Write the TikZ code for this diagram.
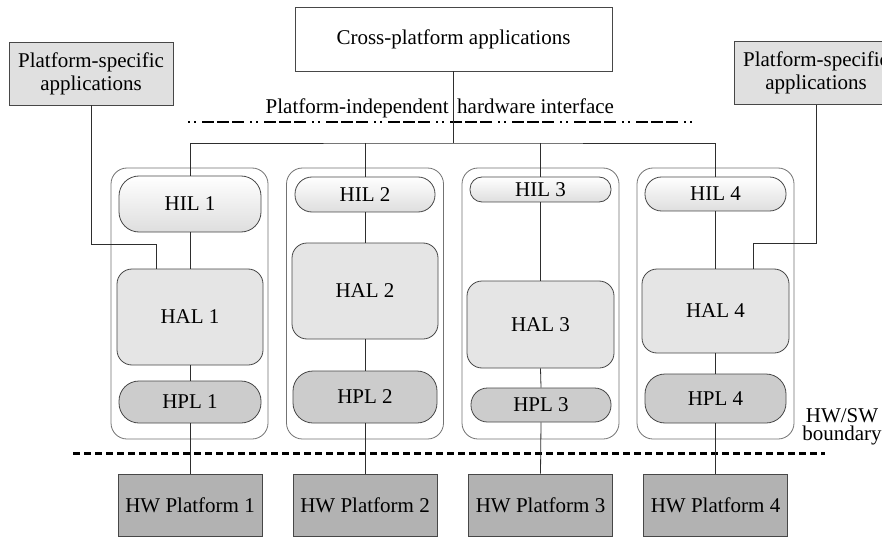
\documentclass[tikz,border=0pt]{standalone}
\usepackage{fontspec}
\setmainfont{Liberation Serif}
\newcommand\lblfont{\fontsize{21}{23}\selectfont}
\tikzset{
  box/.style={draw=black!72, line width=0.8pt, inner sep=0pt, align=center, font=\lblfont},
  hil/.style={box, top color=white, bottom color=black!13},
  hal/.style={box, fill=black!10, rounded corners=15pt},
  hpl/.style={box, fill=black!20},
  hw/.style={box, fill=black!30, minimum width=144pt, minimum height=62pt},
  app/.style={box, fill=black!12, minimum width=164pt, minimum height=63pt},
  group/.style={draw=black!55, line width=0.8pt, rounded corners=16pt, inner sep=0pt,
                minimum width=157pt, minimum height=271pt},
  wire/.style={draw=black!82, line width=0.8pt},
  lbl/.style={inner sep=0pt, font=\lblfont},
}
\begin{document}
\begin{tikzpicture}[x=1pt,y=-1pt]
  \fill[white] (0,0) rectangle (882,537);
  \path[use as bounding box, clip] (0,0) rectangle (882,537);

  % platform containers
  \node[group] (g1) at (189.5,303.5) {};
  \node[group] (g2) at (365,303.5) {};
  \node[group] (g3) at (540.5,303.5) {};
  \node[group] (g4) at (715.5,303.5) {};

  % applications
  \node[box, fill=white, minimum width=317pt, minimum height=64pt] (cross) at (453.5,39) {Cross-platform applications};
  \node[app] (psl) at (91,73.5) {Platform-specific\\applications};
  \node[app] (psr) at (816,73) {Platform-specific\\applications};

  % interface labels
  \node[lbl, anchor=base east] (pi1) at (449,114) {Platform-independent};
  \node[lbl, anchor=base west] (pi2) at (457,114) {hardware interface};
  \draw[line width=2pt, dash pattern=on 2pt off 4pt on 2pt off 6pt on 12pt off 3pt on 12pt off 3pt on 12pt off 6pt]
    (188,122) -- (692,122);

  % hardware interface layers
  \node[hil, minimum width=142pt, minimum height=56pt, rounded corners=20pt] (hil1) at (190,204) {HIL 1};
  \node[hil, minimum width=140pt, minimum height=35pt, rounded corners=17pt] (hil2) at (365,194.5) {HIL 2};
  \node[hil, minimum width=141pt, minimum height=25pt, rounded corners=12pt] (hil3) at (540.5,189.5) {HIL 3};
  \node[hil, minimum width=141pt, minimum height=34pt, rounded corners=16.5pt] (hil4) at (715.5,194) {HIL 4};

  % hardware abstraction layers
  \node[hal, minimum width=146pt, minimum height=96pt] (hal1) at (190,317) {HAL 1};
  \node[hal, minimum width=146pt, minimum height=96pt] (hal2) at (365,291) {HAL 2};
  \node[hal, minimum width=147pt, minimum height=87pt] (hal3) at (540.5,324.5) {HAL 3};
  \node[hal, minimum width=147pt, minimum height=84pt] (hal4) at (715.5,311) {HAL 4};

  % hardware platform layers
  \node[hpl, minimum width=142pt, minimum height=42pt, rounded corners=20pt] (hpl1) at (190,402) {HPL 1};
  \node[hpl, minimum width=144pt, minimum height=52pt, rounded corners=20pt] (hpl2) at (365,397) {HPL 2};
  \node[hpl, minimum width=140pt, minimum height=34pt, rounded corners=16.5pt] (hpl3) at (541,405) {HPL 3};
  \node[hpl, minimum width=141pt, minimum height=49pt, rounded corners=20pt] (hpl4) at (715.5,398.5) {HPL 4};

  % HW/SW boundary
  \draw[line width=3pt, dash pattern=on 7pt off 4pt] (73,453) -- (825,453);
  \node[lbl, align=center, font=\fontsize{21}{18}\selectfont] (hwsw) at (842,427) {HW/SW\\boundary};

  % hardware platforms
  \node[hw] (hw1) at (190,505) {HW Platform 1};
  \node[hw] (hw2) at (365,505) {HW Platform 2};
  \node[hw] (hw3) at (540.5,505) {HW Platform 3};
  \node[hw] (hw4) at (715.5,505) {HW Platform 4};

  % connectors
  \coordinate (bus) at (453.5,143);
  \draw[wire] (cross.south) -- (bus);
  \draw[wire] (hil1.north) |- (bus) -| (hil4.north);
  \draw[wire] (hil2.north) -- (hil2.north |- bus);
  \draw[wire] (hil3.north) -- (hil3.north |- bus);
  \foreach \i in {1,2,3,4} {
    \draw[wire] (hil\i.south) -- (hal\i.north);
    \draw[wire] (hal\i.south) -- (hpl\i.north);
    \draw[wire] (hpl\i.south) -- (hw\i.north);
  }
  \coordinate (kl) at (156,244);
  \coordinate (kr) at (753,243);
  \draw[wire] (psl.south) |- (kl) -- (kl |- hal1.north);
  \draw[wire] (psr.south) |- (kr) -- (kr |- hal4.north);
\end{tikzpicture}
\end{document}
